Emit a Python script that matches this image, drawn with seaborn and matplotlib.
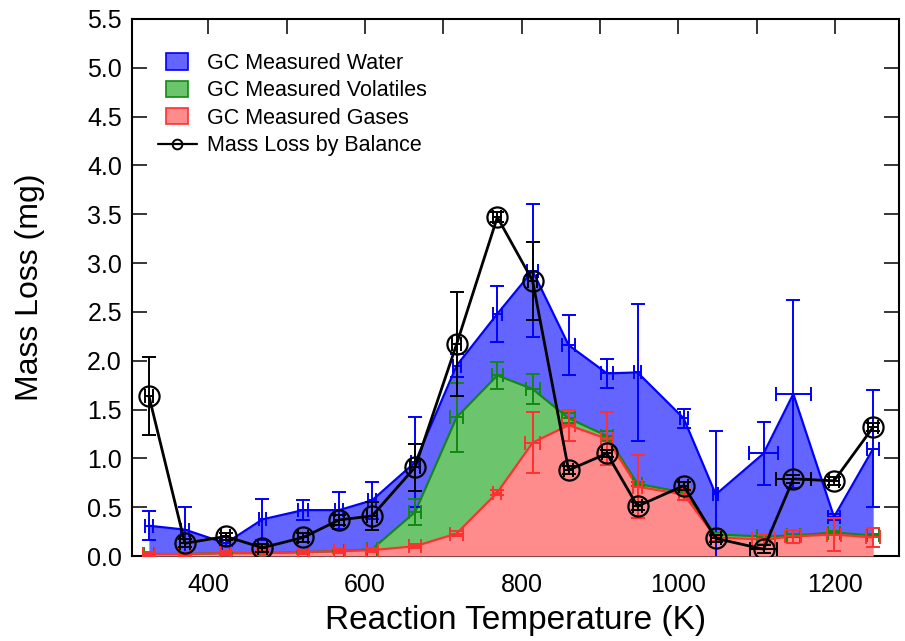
import numpy as np
import matplotlib
matplotlib.use("Agg")
import matplotlib.pyplot as plt
import seaborn as sns
from matplotlib.patches import Patch, Rectangle
from matplotlib.lines import Line2D
from matplotlib.legend_handler import HandlerPatch
from matplotlib.ticker import MultipleLocator, FormatStrFormatter

# Reaction temperatures (K) shared by all series
temperature = [324, 370, 422, 469, 521, 567, 609, 664, 717, 769,
               814, 860, 909, 948, 1007, 1048, 1109, 1147, 1199, 1249]

# GC measured components (mg), stacked gases -> volatiles -> water
gases = [0.02, 0.02, 0.03, 0.03, 0.04, 0.05, 0.06, 0.10, 0.23, 0.65,
         1.16, 1.34, 1.20, 0.71, 0.63, 0.19, 0.17, 0.20, 0.22, 0.19]
volatiles = [0.00, 0.00, 0.00, 0.00, 0.00, 0.00, 0.01, 0.35, 1.19, 1.20,
             0.55, 0.07, 0.03, 0.03, 0.02, 0.03, 0.03, 0.01, 0.02, 0.02]
water = [0.29, 0.25, 0.10, 0.345, 0.43, 0.42, 0.50, 0.51, 0.53, 0.63,
         1.21, 0.75, 0.64, 1.14, 0.76, 0.41, 0.85, 1.45, 0.16, 0.89]

# Uncertainties of the stacked levels
gases_yerr = [0.02, 0.02, 0.02, 0.02, 0.02, 0.02, 0.02, 0.02, 0.03, 0.03,
              0.31, 0.16, 0.27, 0.32, 0.06, 0.04, 0.05, 0.065, 0.17, 0.095]
gases_xerr = [8, 8, 7, 7, 7, 7, 8, 8, 8, 5, 10, 8, 8, 6, 6, 6, 15, 10, 9, 9]
volatiles_yerr = [0.01, 0.01, 0.01, 0.01, 0.01, 0.01, 0.01, 0.13, 0.35, 0.14,
                  0.15, 0.05, 0.05, 0.02, 0.02, 0.02, 0.02, 0.02, 0.02, 0.02]
volatiles_xerr = [6, 6, 6, 6, 6, 6, 6, 8, 8, 7, 9, 8, 8, 6, 6, 6, 8, 8, 8, 8]
water_yerr = [0.15, 0.23, 0.03, 0.21, 0.10, 0.19, 0.19, 0.46, 0.12, 0.29,
              0.68, 0.31, 0.15, 0.70, 0.10, 0.65, 0.32, 0.96, 0.03, 0.60]
water_xerr = [5, 5, 5, 5, 6, 5, 5, 5, 5, 6, 7, 8, 8, 5, 5, 3, 18, 22, 8, 8]

# Mass loss weighed on the balance (mg)
balance = [1.64, 0.13, 0.20, 0.085, 0.19, 0.37, 0.41, 0.91, 2.17, 3.47,
           2.82, 0.88, 1.05, 0.51, 0.72, 0.18, 0.07, 0.79, 0.77, 1.32]
balance_yerr = [0.40, 0.04, 0.04, 0.04, 0.05, 0.05, 0.14, 0.24, 0.53, 0.05,
                0.40, 0.04, 0.04, 0.04, 0.04, 0.04, 0.04, 0.04, 0.04, 0.04]
balance_xerr = [5, 6, 6, 6, 6, 6, 6, 6, 6, 5, 6, 6, 6, 6, 6, 6, 17, 22, 6, 6]

labels = ["GC Measured Water", "GC Measured Volatiles",
          "GC Measured Gases", "Mass Loss by Balance"]

sns.set_theme(style="ticks")
plt.rcParams["font.family"] = ["Liberation Sans", "DejaVu Sans"]
plt.rcParams["text.color"] = "black"
plt.rcParams["axes.labelcolor"] = "black"

blue_line, blue_fill = "#0000ff", "#6464ff"
green_line, green_fill = "#118a11", "#6cc46c"
red_line, red_fill = "#ff3030", "#ff8c8c"

x = np.array(temperature, dtype=float)
gas_top = np.array(gases)
vol_top = gas_top + np.array(volatiles)
water_top = vol_top + np.array(water)

fig, ax = plt.subplots(figsize=(9.05, 6.41), dpi=100)
fig.subplots_adjust(left=0.1455, right=0.9934, bottom=0.1326, top=0.9704)

# stacked areas
ax.fill_between(x, 0, gas_top, color=red_fill, lw=0, zorder=2.6)
ax.fill_between(x, gas_top, vol_top, color=green_fill, lw=0, zorder=2.6)
ax.fill_between(x, vol_top, water_top, color=blue_fill, lw=0, zorder=2.6)

eb = dict(fmt="none", elinewidth=1.4, capsize=5.2, capthick=1.4)
for top, yerr, xerr, col in [(water_top, water_yerr, water_xerr, blue_line),
                             (vol_top, volatiles_yerr, volatiles_xerr, green_line),
                             (gas_top, gases_yerr, gases_xerr, red_line)]:
    sns.lineplot(x=x, y=top, color=col, lw=1.6, sort=False, estimator=None,
                 ax=ax, zorder=3)
    ax.errorbar(x, top, yerr=yerr, xerr=xerr, ecolor=col, zorder=3.1, **eb)

ax.errorbar(x, balance, yerr=balance_yerr, xerr=balance_xerr, ecolor="black",
            zorder=4, **eb)
sns.lineplot(x=x, y=balance, color="black", lw=2.0, marker="o", markersize=14.5,
             markerfacecolor="none", markeredgecolor="black", markeredgewidth=1.6,
             sort=False, estimator=None, ax=ax, zorder=4.1)

ax.set_xlim(302, 1282)
ax.set_ylim(0, 5.5)
ax.xaxis.set_major_locator(MultipleLocator(200))
ax.xaxis.set_minor_locator(MultipleLocator(100))
ax.yaxis.set_major_locator(MultipleLocator(0.5))
ax.yaxis.set_major_formatter(FormatStrFormatter("%.1f"))
ax.tick_params(axis="both", which="both", direction="in", length=11, width=1.1,
               top=True, right=True, colors="black", labelcolor="black",
               labelsize=18)
ax.tick_params(axis="x", which="major", pad=12)
ax.tick_params(axis="y", which="major", pad=7)
for s in ax.spines.values():
    s.set_linewidth(1.5)
    s.set_color("black")

ax.set_xlabel("Reaction Temperature (K)", fontsize=24, labelpad=6, color="black")
ax.set_ylabel("Mass Loss (mg)", fontsize=23, labelpad=30, color="black")


def small_box(legend, orig_handle, xdescent, ydescent, width, height, fontsize):
    w = width * 0.55
    return Rectangle((-xdescent + (width - w) / 2, -ydescent - 0.5), w, height + 1)


handles = [Patch(facecolor=blue_fill, edgecolor=blue_line, lw=1.2),
           Patch(facecolor=green_fill, edgecolor=green_line, lw=1.2),
           Patch(facecolor=red_fill, edgecolor=red_line, lw=1.2),
           Line2D([], [], color="black", lw=1.6, marker="o", markersize=7,
                  markerfacecolor="none", markeredgewidth=1.4)]
leg = ax.legend(handles, labels, loc="upper left", bbox_to_anchor=(0.034, 0.937),
                frameon=False, fontsize=15.5, handlelength=1.8, handletextpad=0.5,
                labelspacing=0.3, borderpad=0, borderaxespad=0,
                handler_map={Patch: HandlerPatch(patch_func=small_box)})
for t in leg.get_texts():
    t.set_color("black")

fig.savefig("out.png", dpi=100)
